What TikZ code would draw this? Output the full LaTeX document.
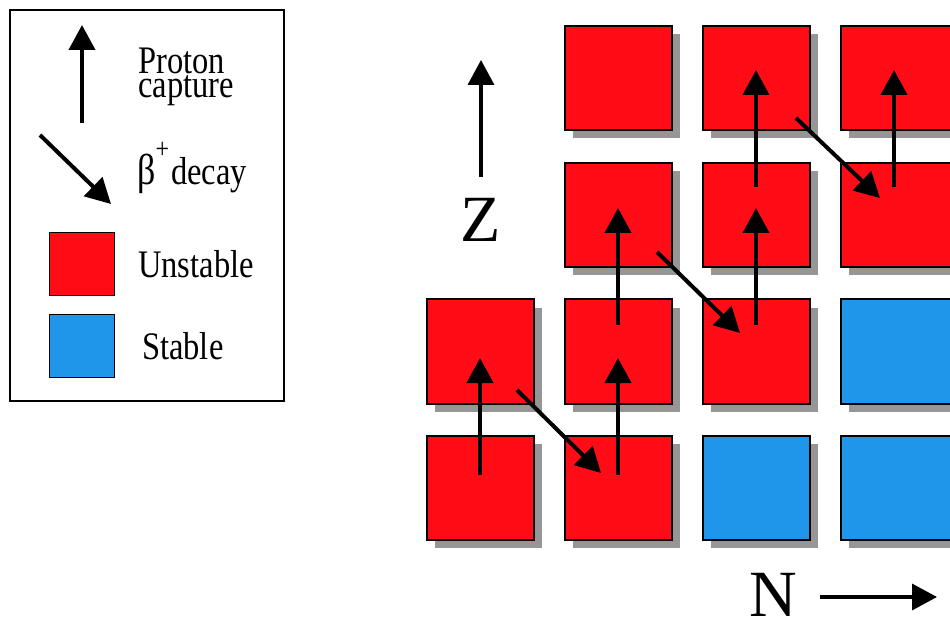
\documentclass[tikz,border=0pt]{standalone}
\usepackage{fontspec}
\setmainfont{Liberation Serif}
\usetikzlibrary{arrows.meta,shadows}
\definecolor{cellred}{RGB}{255,12,22}
\definecolor{cellblue}{RGB}{32,150,235}
\definecolor{shadowgray}{RGB}{150,150,150}
% legend lettering is set slightly tall
\newcommand{\tallword}[1]{\scalebox{1}[1.2]{#1}}

\begin{document}
\begin{tikzpicture}[x=1bp,y=-1bp,
  cell/.style={draw=black, line width=2bp, minimum width=107bp, minimum height=104bp,
    inner sep=0pt, drop shadow={shadow xshift=8bp, shadow yshift=-8bp, fill=shadowgray, opacity=1}},
  unstable/.style={cell, fill=cellred},
  stable/.style={cell, fill=cellblue},
  edgecell/.style={minimum width=110bp},
  keybox/.style={draw=black, line width=1.3bp, minimum width=65bp, minimum height=63bp, inner sep=0pt},
  flowarrow/.style={line width=4bp, -{Triangle[length=25bp,width=26bp]}},
  axisarrow/.style={line width=3.5bp, -{Triangle[length=25bp,width=26bp]}},
  keytext/.style={anchor=base west, inner sep=0pt, font=\fontsize{32.5bp}{32.5bp}\selectfont},
  axistext/.style={anchor=base west, inner sep=0pt, font=\fontsize{66bp}{66bp}\selectfont},
]
\useasboundingbox (0,0) rectangle (950,620);

% ---- legend ----
\node[draw=black, line width=2bp, minimum width=274bp, minimum height=391bp, inner sep=0pt]
  (legend) at (147,205.5) {};
\coordinate (pcTail) at (82,123);
\coordinate (pcHead) at (82,25);
\draw[flowarrow] (pcTail) -- (pcHead);
\coordinate (bdTail) at (40,135);
\coordinate (bdHead) at (111,204);
\draw[flowarrow] (bdTail) -- (bdHead);
\node[keybox, fill=cellred] (keyred) at (82,264) {};
\node[keybox, fill=cellblue] (keyblue) at (82,346) {};
\node[keytext] (tProton) at (138,74) {\tallword{Proton}};
\node[keytext] (tCapture) at (138,98) {\tallword{capture}};
\node[keytext] (tBeta) at (137,185)
  {\tallword{{\fontsize{36bp}{36bp}\selectfont β}\raisebox{22bp}{\fontsize{24bp}{24bp}\selectfont +}\hspace{2bp}decay}};
\node[keytext] (tUnstable) at (138,278) {\tallword{Unstable}};
\node[keytext] (tStable) at (142,359) {\tallword{Stable}};

% ---- nuclide grid (row 0 at top) ----
\node[unstable] (c01) at (618,78.5) {};
\node[unstable] (c02) at (756,78.5) {};
\node[unstable, edgecell] (c03) at (896,78.5) {};
\node[unstable] (c11) at (618,215) {};
\node[unstable] (c12) at (756,215) {};
\node[unstable, edgecell] (c13) at (896,215) {};
\node[unstable] (c20) at (480,351.5) {};
\node[unstable] (c21) at (618,351.5) {};
\node[unstable] (c22) at (756,351.5) {};
\node[stable, edgecell]   (c23) at (896,351.5) {};
\node[unstable] (c30) at (480,488) {};
\node[unstable] (c31) at (618,488) {};
\node[stable]   (c32) at (756,488) {};
\node[stable, edgecell]   (c33) at (896,488) {};

% proton captures
\draw[flowarrow] ([yshift=13bp]c30.center) -- ([yshift=-6.5bp]c20.center);
\draw[flowarrow] ([yshift=13bp]c31.center) -- ([yshift=-6.5bp]c21.center);
\draw[flowarrow] ([yshift=26.5bp]c21.center) -- ([yshift=7bp]c11.center);
\draw[flowarrow] ([yshift=26.5bp]c22.center) -- ([yshift=7bp]c12.center);
\draw[flowarrow] ([yshift=28bp]c12.center) -- ([yshift=8.5bp]c02.center);
\draw[flowarrow] ([xshift=-2bp,yshift=28bp]c13.center) -- ([xshift=-2bp,yshift=8.5bp]c03.center);

% beta+ decays
\draw[flowarrow] ([xshift=37bp,yshift=-38.5bp]c20.center) -- ([xshift=-17bp,yshift=15bp]c31.center);
\draw[flowarrow] ([xshift=39bp,yshift=-37bp]c11.center) -- ([xshift=-16bp,yshift=18.5bp]c22.center);
\draw[flowarrow] ([xshift=40bp,yshift=-39.5bp]c02.center) -- ([xshift=-16bp,yshift=17bp]c13.center);

% ---- axes ----
\node[axistext] (zlabel) at (460,242) {Z};
\coordinate (zTail) at (481,177);
\coordinate (zHead) at (481,60);
\draw[axisarrow] (zTail) -- (zHead);
\node[axistext] (nlabel) at (749,616) {N};
\coordinate (nTail) at (820,597);
\coordinate (nHead) at (937,597);
\draw[axisarrow] (nTail) -- (nHead);
\end{tikzpicture}
\end{document}
